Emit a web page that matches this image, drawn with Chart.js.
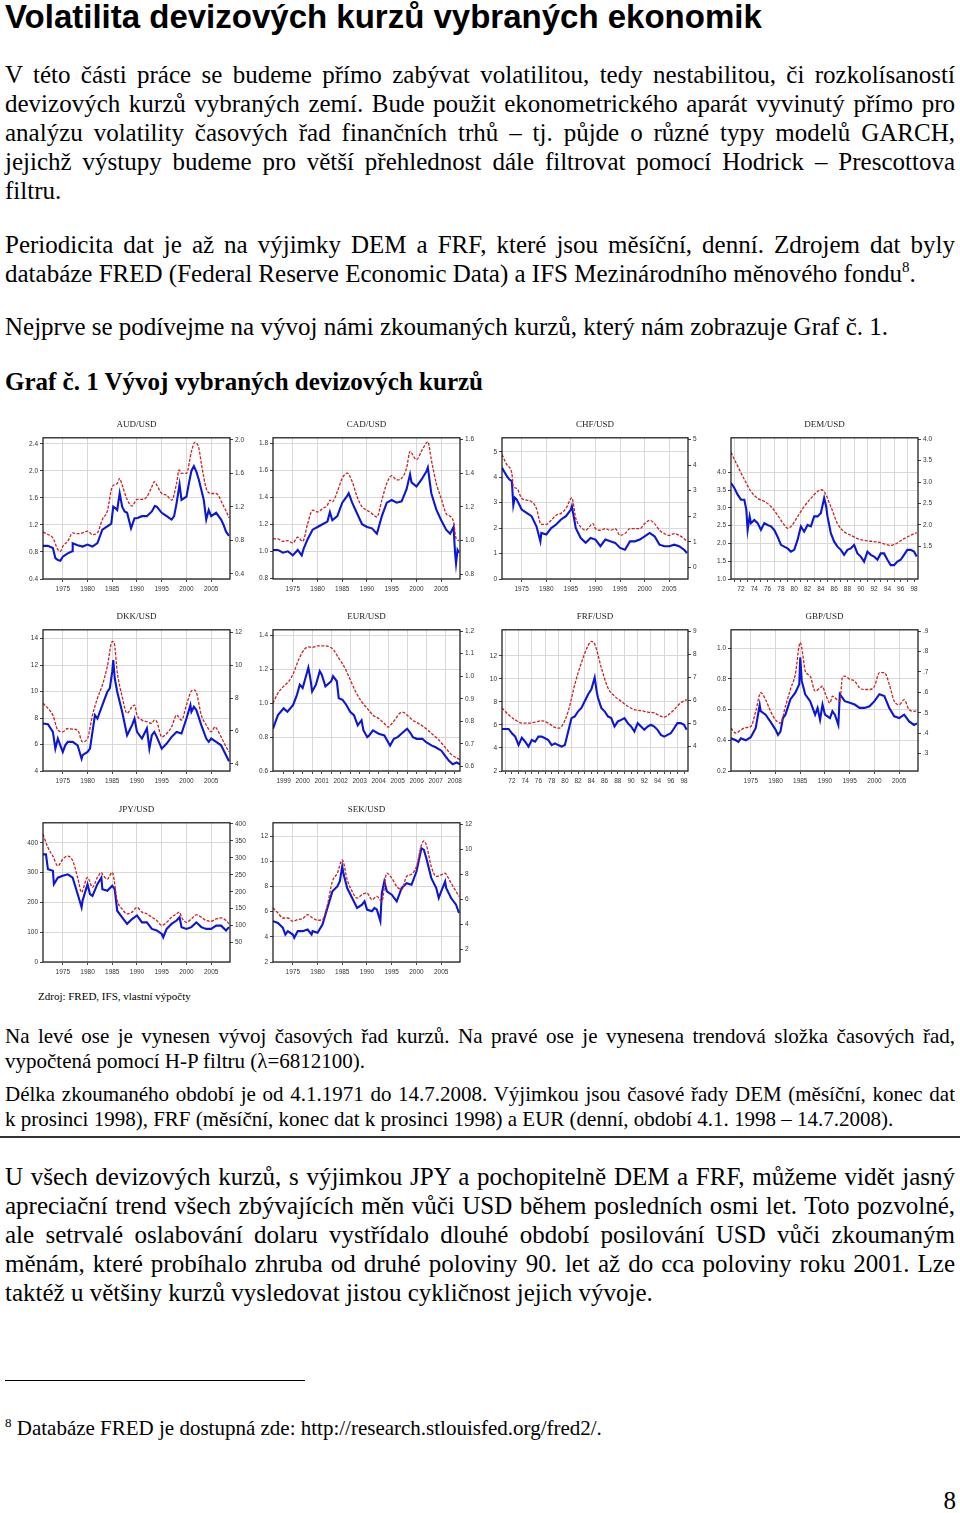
<!DOCTYPE html>
<html lang="cs">
<head>
<meta charset="utf-8">
<title>Volatilita devizových kurzů vybraných ekonomik</title>
<script src="https://cdn.jsdelivr.net/npm/chart.js@4.4.1/dist/chart.umd.min.js"></script>
<style>
  body { margin: 0; width: 960px; height: 1513px; position: relative; background: #fff; color: #000; font-family: 'Liberation Serif', 'Times New Roman', serif; overflow: hidden; }
  .para { position: absolute; left: 5px; width: 950px; font-size: 25px; line-height: 29px; }
  .para div { text-align: justify; text-align-last: justify; }
  .para div.last { text-align-last: left; }
  .small { font-size: 21px; line-height: 25px; }
  h1 { position: absolute; left: 5px; top: 0; margin: 0; font-family: 'Liberation Sans', Arial, sans-serif; font-size: 33px; line-height: 33px; font-weight: bold; }
  .heading { position: absolute; left: 5px; top: 367px; font-size: 25px; line-height: 29px; font-weight: bold; }
  .box { position: absolute; }
  sup { font-size: 15px; line-height: 0; vertical-align: 10px; }
</style>
</head>
<body>
<h1>Volatilita devizových kurzů vybraných ekonomik</h1>

<div class="para" style="top:60px">
  <div>V této části práce se budeme přímo zabývat volatilitou, tedy nestabilitou, či rozkolísaností</div>
  <div>devizových kurzů vybraných zemí. Bude použit ekonometrického aparát vyvinutý přímo pro</div>
  <div>analýzu volatility časových řad finančních trhů – tj. půjde o různé typy modelů GARCH,</div>
  <div>jejichž výstupy budeme pro větší přehlednost dále filtrovat pomocí Hodrick – Prescottova</div>
  <div class="last">filtru.</div>
</div>
<div class="para" style="top:230px">
  <div>Periodicita dat je až na výjimky DEM a FRF, které jsou měsíční, denní. Zdrojem dat byly</div>
  <div class="last">databáze FRED (Federal Reserve Economic Data) a IFS Mezinárodního měnového fondu<sup>8</sup>.</div>
</div>
<div class="para" style="top:312px">
  <div class="last">Nejprve se podívejme na vývoj námi zkoumaných kurzů, který nám zobrazuje Graf č. 1.</div>
</div>
<div class="heading">Graf č. 1 Vývoj vybraných devizových kurzů</div>

<div id="charts"></div>

<div class="box" style="left:38px; top:990px; font-size:11px; line-height:13px;">Zdroj: FRED, IFS, vlastní výpočty</div>

<div class="para small" style="top:1024px">
  <div>Na levé ose je vynesen vývoj časových řad kurzů. Na pravé ose je vynesena trendová složka časových řad,</div>
  <div class="last">vypočtená pomocí H-P filtru (λ=6812100).</div>
</div>
<div class="para small" style="top:1082px">
  <div>Délka zkoumaného období je od 4.1.1971 do 14.7.2008. Výjimkou jsou časové řady DEM (měsíční, konec dat</div>
  <div class="last">k prosinci 1998), FRF (měsíční, konec dat k prosinci 1998) a EUR (denní, období 4.1. 1998 – 14.7.2008).</div>
</div>
<div class="box" style="left:0; top:1136px; width:960px; height:2px; background:#333;"></div>

<div class="para" style="top:1162px">
  <div>U všech devizových kurzů, s výjimkou JPY a pochopitelně DEM a FRF, můžeme vidět jasný</div>
  <div>apreciační trend všech zbývajících měn vůči USD během posledních osmi let. Toto pozvolné,</div>
  <div>ale setrvalé oslabování dolaru vystřídalo dlouhé období posilování USD vůči zkoumaným</div>
  <div>měnám, které probíhalo zhruba od druhé poloviny 90. let až do cca poloviny roku 2001. Lze</div>
  <div class="last">taktéž u většiny kurzů vysledovat jistou cykličnost jejich vývoje.</div>
</div>

<div class="box" style="left:5px; top:1380px; width:300px; height:1px; background:#000;"></div>
<div class="box" style="left:5px; top:1416px; font-size:21px; line-height:25px;"><sup style="font-size:13px; vertical-align:8px;">8</sup> Databáze FRED je dostupná zde: http://research.stlouisfed.org/fred2/.</div>
<div class="box" style="right:4px; top:1486px; font-size:25px; line-height:29px;">8</div>

<script>
// x tick labels
const yearTicks = [1975, 1980, 1985, 1990, 1995, 2000, 2005];
const monthlyLabels = ['72', '74', '76', '78', '80', '82', '84', '86', '88', '90', '92', '94', '96', '98'];
const eurLabels = ['1999', '2000', '2001', '2002', '2003', '2004', '2005', '2006', '2007', '2008'];

// y tick labels (left = kurz, right = H-P trend)
const audLeftTicks = [0.4, 0.8, 1.2, 1.6, 2.0, 2.4];
const audRightTicks = [0.4, 0.8, 1.2, 1.6, 2.0];
const cadLeftTicks = [0.8, 1.0, 1.2, 1.4, 1.6, 1.8];
const cadRightTicks = [0.8, 1.0, 1.2, 1.4, 1.6];
const chfLeftTicks = [0, 1, 2, 3, 4, 5];
const chfRightTicks = [0, 1, 2, 3, 4, 5];
const demLeftTicks = [1.0, 1.5, 2.0, 2.5, 3.0, 3.5, 4.0];
const demRightTicks = [1.5, 2.0, 2.5, 3.0, 3.5, 4.0];
const dkkLeftTicks = [4, 6, 8, 10, 12, 14];
const dkkRightTicks = [4, 6, 8, 10, 12];
const eurLeftTicks = [0.6, 0.8, 1.0, 1.2, 1.4];
const eurRightTicks = [0.6, 0.7, 0.8, 0.9, 1.0, 1.1, 1.2];
const frfLeftTicks = [2, 4, 6, 8, 10, 12];
const frfRightTicks = [4, 5, 6, 7, 8, 9];
const gbpLeftTicks = [0.2, 0.4, 0.6, 0.8, 1.0];
const gbpRightTicks = [0.3, 0.4, 0.5, 0.6, 0.7, 0.8, 0.9];
const jpyLeftTicks = [0, 100, 200, 300, 400];
const jpyRightTicks = [50, 100, 150, 200, 250, 300, 350, 400];
const sekLeftTicks = [2, 4, 6, 8, 10, 12];
const sekRightTicks = [2, 4, 6, 8, 10, 12];

// series: [year, value]
const audSpot = [[1971,0.89],[1972,0.89],[1973,0.86],[1973.5,0.71],[1974,0.68],[1974.5,0.67],[1975,0.73],[1976,0.78],[1976.9,0.81],[1977,0.93],[1978,0.90],[1979,0.88],[1980,0.91],[1981,0.88],[1982,0.93],[1983,1.13],[1984,1.18],[1984.8,1.22],[1985.2,1.47],[1985.6,1.45],[1986,1.42],[1986.5,1.67],[1987,1.47],[1987.5,1.40],[1988,1.38],[1988.8,1.15],[1989.5,1.30],[1990,1.30],[1991,1.33],[1992,1.33],[1993,1.40],[1993.6,1.48],[1994,1.47],[1995,1.38],[1996,1.33],[1997,1.28],[1997.5,1.33],[1998,1.52],[1998.6,1.80],[1999,1.57],[2000,1.62],[2000.5,1.82],[2001,2.00],[2001.5,2.07],[2002,1.99],[2002.5,1.87],[2003,1.72],[2003.5,1.57],[2004,1.28],[2004.5,1.42],[2005,1.33],[2006,1.38],[2007,1.28],[2007.5,1.20],[2008,1.10],[2008.6,1.04]];
const audTrend = [[1971,0.90],[1972,0.87],[1973,0.83],[1974,0.69],[1974.5,0.67],[1975,0.73],[1976,0.79],[1977,0.89],[1978,0.88],[1979,0.89],[1980,0.91],[1981,0.87],[1982,0.89],[1983,1.05],[1984,1.15],[1985,1.44],[1986,1.48],[1986.5,1.54],[1987,1.46],[1988,1.29],[1989,1.21],[1990,1.29],[1991,1.29],[1992,1.32],[1993,1.44],[1993.5,1.50],[1994,1.46],[1995,1.36],[1996,1.34],[1997,1.28],[1998,1.48],[1998.5,1.64],[1999,1.60],[2000,1.60],[2001,1.86],[2001.7,1.97],[2002.5,1.90],[2003,1.72],[2004,1.42],[2005,1.36],[2006,1.36],[2006.5,1.33],[2007,1.27],[2008,1.15],[2008.6,1.07]];

const cadSpot = [[1971,1.01],[1972,1.01],[1973,0.99],[1974,1.00],[1975,0.97],[1976,1.01],[1976.8,0.97],[1977.2,1.02],[1978,1.09],[1979,1.16],[1980,1.18],[1981,1.20],[1982,1.22],[1982.5,1.29],[1983,1.23],[1984,1.26],[1985,1.36],[1986,1.41],[1986.3,1.43],[1987,1.36],[1988,1.28],[1989,1.20],[1990,1.18],[1991,1.17],[1992,1.13],[1993,1.26],[1994,1.36],[1995,1.38],[1996,1.36],[1997,1.37],[1998,1.46],[1998.7,1.57],[1999,1.51],[2000,1.48],[2001,1.53],[2002,1.59],[2002.3,1.62],[2003,1.43],[2004,1.31],[2005,1.23],[2006,1.16],[2006.8,1.13],[2007.5,1.18],[2007.8,0.99],[2008,0.91],[2008.3,1.01],[2008.6,0.99]];
const cadTrend = [[1971,1.01],[1972,1.01],[1973,0.995],[1974,1.0],[1975,0.985],[1976,1.02],[1977,0.995],[1978,1.10],[1979,1.18],[1980,1.17],[1981,1.19],[1982,1.21],[1982.5,1.24],[1983,1.23],[1984,1.29],[1985,1.37],[1986,1.40],[1987,1.35],[1988,1.26],[1989,1.20],[1990,1.18],[1991,1.16],[1992,1.14],[1993,1.24],[1994,1.34],[1995,1.385],[1996,1.36],[1997,1.37],[1998,1.43],[1998.7,1.53],[1999,1.52],[2000,1.48],[2001,1.53],[2002,1.58],[2002.3,1.586],[2003,1.48],[2004,1.34],[2005,1.25],[2006,1.16],[2007,1.14],[2007.5,1.11],[2008,1.014],[2008.6,1.0]];

const chfSpot = [[1971,4.37],[1972,4.04],[1972.5,3.91],[1973,3.85],[1973.3,2.9],[1973.6,3.2],[1974,3.12],[1975,2.73],[1976,2.6],[1977,2.47],[1978,2.07],[1978.8,1.48],[1979,1.81],[1980,1.75],[1981,2.0],[1982,2.14],[1983,2.34],[1984,2.47],[1985,2.73],[1985.2,2.86],[1986,2.0],[1987,1.61],[1988,1.42],[1989,1.61],[1990,1.55],[1991,1.29],[1992,1.55],[1993,1.48],[1994,1.42],[1995,1.22],[1996,1.15],[1997,1.48],[1998,1.48],[1999,1.55],[2000,1.68],[2001,1.81],[2002,1.68],[2003,1.35],[2004,1.29],[2005,1.29],[2006,1.35],[2007,1.29],[2008,1.15],[2008.6,1.02]];
const chfTrend = [[1971,4.41],[1972,4.01],[1973,3.68],[1973.3,3.16],[1974,3.09],[1975,2.70],[1976,2.63],[1977,2.57],[1978,2.30],[1978.8,1.71],[1979,1.68],[1980,1.68],[1981,1.84],[1982,2.04],[1983,2.11],[1984,2.30],[1985.2,2.72],[1986,1.91],[1987,1.58],[1988,1.45],[1989,1.64],[1989.5,1.71],[1990,1.51],[1991,1.45],[1992,1.51],[1993,1.45],[1994,1.51],[1995,1.25],[1996,1.32],[1997,1.51],[1998,1.51],[1999,1.51],[2000,1.71],[2001,1.84],[2002,1.71],[2003,1.45],[2004,1.32],[2005,1.25],[2006,1.32],[2007,1.25],[2008,1.12],[2008.6,1.01]];

const demSpot = [[1971,3.70],[1971.5,3.56],[1972,3.37],[1972.5,3.23],[1973,3.23],[1973.3,2.95],[1973.5,2.38],[1973.8,2.76],[1974,2.57],[1974.5,2.66],[1975,2.57],[1975.5,2.38],[1976,2.57],[1976.5,2.52],[1977,2.48],[1977.5,2.38],[1978,2.19],[1978.5,1.96],[1979,1.91],[1979.5,1.86],[1980,1.77],[1980.5,1.82],[1981,2.10],[1981.5,2.48],[1982,2.33],[1982.5,2.52],[1983,2.48],[1983.5,2.76],[1984,2.76],[1984.5,2.85],[1985,3.28],[1985.3,3.04],[1985.5,2.76],[1986,2.29],[1986.5,2.05],[1987,1.91],[1987.5,1.82],[1988,1.68],[1988.5,1.82],[1989,1.86],[1989.5,1.96],[1990,1.72],[1990.5,1.63],[1991,1.49],[1991.5,1.77],[1992,1.68],[1992.5,1.63],[1993,1.54],[1993.5,1.72],[1994,1.72],[1994.5,1.54],[1995,1.39],[1995.5,1.39],[1996,1.49],[1996.5,1.54],[1997,1.68],[1997.5,1.82],[1998,1.82],[1998.5,1.77],[1998.9,1.63]];
const demTrend = [[1971,3.69],[1972,3.37],[1973,3.06],[1974,2.78],[1975,2.62],[1976,2.55],[1977,2.43],[1978,2.23],[1979,2.0],[1979.5,1.92],[1980,1.96],[1981,2.19],[1982,2.43],[1983,2.62],[1984,2.78],[1984.5,2.82],[1985,2.78],[1986,2.43],[1987,2.03],[1988,1.84],[1989,1.76],[1990,1.68],[1991,1.64],[1992,1.62],[1993,1.60],[1994,1.56],[1995,1.52],[1995.5,1.54],[1996,1.58],[1997,1.68],[1998,1.76],[1998.9,1.82]];

const dkkSpot = [[1971,7.59],[1972,7.54],[1973,6.95],[1973.5,5.69],[1974,6.45],[1974.5,5.94],[1975,5.44],[1975.5,5.94],[1976,6.20],[1977,6.20],[1978,5.94],[1978.8,4.93],[1979,5.19],[1980,5.44],[1980.5,5.69],[1981,6.95],[1981.5,8.22],[1982,7.96],[1983,8.97],[1984,9.98],[1984.5,10.24],[1985,11.50],[1985.2,12.38],[1985.5,11.0],[1986,9.98],[1987,8.47],[1988,6.70],[1988.5,7.08],[1989,7.46],[1989.5,7.96],[1990,6.95],[1991,6.45],[1992,7.21],[1992.5,5.69],[1993,6.70],[1993.5,6.95],[1994,6.58],[1995,5.69],[1996,6.07],[1997,6.58],[1998,6.95],[1999,6.83],[2000,7.96],[2000.8,8.97],[2001,8.47],[2001.5,8.85],[2002,8.60],[2003,7.46],[2004,6.45],[2004.5,6.20],[2005,6.45],[2006,6.20],[2007,5.94],[2008,5.19],[2008.6,4.73]];
const dkkTrend = [[1971,7.68],[1972,7.37],[1973,6.96],[1974,6.05],[1975,5.95],[1976,6.15],[1977,6.11],[1978,6.05],[1979,5.34],[1980,5.54],[1981,6.96],[1982,7.98],[1983,8.79],[1984,9.91],[1985,11.43],[1985.4,11.33],[1986,9.60],[1987,8.08],[1988,7.07],[1989,7.47],[1989.5,7.57],[1990,6.96],[1991,6.66],[1992,6.56],[1993,6.46],[1993.5,6.66],[1994,6.56],[1995,5.64],[1996,5.85],[1997,6.25],[1998,6.96],[1999,6.66],[2000,7.57],[2001,8.43],[2001.5,8.49],[2002,8.35],[2003,6.96],[2004,6.36],[2005,5.95],[2005.8,6.25],[2006,6.19],[2007,5.64],[2008,5.04],[2008.6,4.73]];

const eurSpot = [[1998.94,0.85],[1999.2,0.93],[1999.5,0.97],[1999.7,0.95],[2000.0,0.99],[2000.2,1.05],[2000.35,1.11],[2000.5,1.09],[2000.7,1.17],[2000.8,1.21],[2000.9,1.15],[2001.0,1.07],[2001.2,1.11],[2001.4,1.19],[2001.5,1.17],[2001.7,1.10],[2001.9,1.12],[2002.0,1.13],[2002.1,1.16],[2002.3,1.13],[2002.4,1.03],[2002.6,1.02],[2002.8,0.99],[2003.0,0.95],[2003.2,0.93],[2003.4,0.87],[2003.6,0.90],[2003.7,0.84],[2003.9,0.80],[2004.0,0.81],[2004.2,0.84],[2004.5,0.82],[2004.8,0.81],[2005.0,0.77],[2005.1,0.75],[2005.3,0.79],[2005.5,0.80],[2005.8,0.83],[2006.0,0.85],[2006.2,0.82],[2006.3,0.80],[2006.5,0.79],[2006.8,0.79],[2007.0,0.77],[2007.3,0.75],[2007.5,0.74],[2007.8,0.72],[2008.0,0.69],[2008.2,0.66],[2008.4,0.64],[2008.6,0.65],[2008.78,0.64]];
const eurTrend = [[1998.94,0.88],[1999.2,0.925],[1999.5,0.955],[1999.8,0.98],[2000.0,1.01],[2000.3,1.075],[2000.6,1.12],[2000.8,1.13],[2001.0,1.128],[2001.3,1.135],[2001.6,1.135],[2001.9,1.13],[2002.1,1.12],[2002.4,1.08],[2002.7,1.04],[2003.0,0.985],[2003.3,0.93],[2003.6,0.887],[2003.9,0.857],[2004.2,0.827],[2004.5,0.812],[2004.8,0.79],[2005.0,0.774],[2005.2,0.79],[2005.4,0.812],[2005.6,0.835],[2005.8,0.839],[2006.0,0.827],[2006.3,0.804],[2006.6,0.79],[2007.0,0.767],[2007.3,0.744],[2007.6,0.722],[2008.0,0.684],[2008.3,0.654],[2008.78,0.629]];

const frfSpot = [[1971,5.65],[1972,5.65],[1972.5,5.27],[1973,4.98],[1973.5,4.25],[1974,4.89],[1974.5,4.54],[1975,4.11],[1975.5,4.69],[1976,4.54],[1976.5,4.98],[1977,4.98],[1977.5,4.84],[1978,4.69],[1978.5,4.25],[1979,4.40],[1979.5,4.25],[1980,4.11],[1980.5,4.25],[1981,5.42],[1981.5,6.59],[1982,6.74],[1982.5,7.18],[1983,7.47],[1983.5,8.05],[1984,8.64],[1984.5,9.08],[1985,10.10],[1985.3,8.93],[1985.5,8.35],[1986,7.47],[1986.5,7.18],[1987,6.74],[1987.5,6.59],[1988,5.86],[1988.5,6.30],[1989,6.44],[1989.5,6.59],[1990,6.15],[1990.5,5.86],[1991,5.42],[1991.5,6.15],[1992,5.86],[1992.5,5.57],[1993,5.86],[1993.5,6.01],[1994,5.86],[1994.5,5.57],[1995,5.13],[1995.5,4.98],[1996,5.13],[1996.5,5.27],[1997,5.71],[1997.5,6.15],[1998,6.15],[1998.5,6.01],[1998.9,5.57]];
const frfTrend = [[1971,5.67],[1972,5.37],[1973,5.15],[1974,5.01],[1975,5.01],[1976,5.05],[1977,5.11],[1978,5.01],[1979,4.82],[1979.5,4.79],[1980,4.86],[1981,5.52],[1982,6.69],[1983,7.64],[1984,8.37],[1984.5,8.56],[1985,8.44],[1986,7.42],[1987,6.54],[1988,6.18],[1989,5.96],[1990,5.74],[1991,5.59],[1992,5.55],[1993,5.49],[1994,5.45],[1995,5.30],[1995.5,5.27],[1996,5.34],[1997,5.59],[1998,5.89],[1998.9,6.03]];

const gbpSpot = [[1971,0.413],[1972,0.40],[1972.5,0.39],[1973,0.413],[1974,0.40],[1975,0.42],[1976,0.48],[1976.8,0.63],[1977,0.59],[1978,0.567],[1979,0.52],[1980,0.47],[1980.5,0.435],[1981,0.457],[1981.5,0.545],[1982,0.567],[1983,0.666],[1984,0.71],[1984.8,0.765],[1985,0.94],[1985.3,0.787],[1986,0.70],[1987,0.655],[1988,0.567],[1988.5,0.61],[1989,0.534],[1989.5,0.633],[1990,0.567],[1991,0.545],[1991.5,0.589],[1992,0.567],[1992.7,0.50],[1993,0.70],[1994,0.655],[1995,0.644],[1996,0.633],[1997,0.611],[1998,0.611],[1999,0.622],[2000,0.655],[2001,0.70],[2002,0.688],[2003,0.611],[2004,0.556],[2005,0.545],[2006,0.567],[2007,0.523],[2008,0.50],[2008.6,0.51]];
const gbpTrend = [[1971,0.424],[1972,0.40],[1973,0.416],[1974,0.427],[1975,0.432],[1976,0.507],[1977,0.598],[1978,0.564],[1979,0.507],[1980,0.465],[1981,0.449],[1982,0.531],[1983,0.614],[1984,0.688],[1985,0.845],[1985.5,0.788],[1986,0.705],[1987,0.68],[1988,0.606],[1989,0.622],[1989.5,0.63],[1990,0.598],[1991,0.548],[1991.5,0.581],[1992,0.573],[1993,0.556],[1993.5,0.672],[1994,0.68],[1995,0.664],[1996,0.655],[1997,0.622],[1998,0.614],[1999,0.614],[2000,0.63],[2001,0.697],[2002,0.697],[2003,0.639],[2004,0.556],[2005,0.54],[2006,0.564],[2007,0.515],[2008,0.507],[2008.6,0.51]];

const jpySpot = [[1971,361],[1971.6,361],[1972,311],[1973,306],[1973.2,261],[1974,283],[1975,289],[1976,294],[1977,283],[1978,228],[1978.8,183],[1979,206],[1980,261],[1980.5,228],[1981,222],[1982,261],[1982.8,283],[1983,244],[1984,239],[1985,256],[1985.5,244],[1986,172],[1987,150],[1988,128],[1989,144],[1990,156],[1991,133],[1992,133],[1993,111],[1994,106],[1995,94],[1995.3,83],[1996,111],[1997,128],[1998,139],[1998.6,150],[1999,117],[2000,111],[2001,117],[2002,133],[2003,117],[2004,111],[2005,111],[2006,122],[2007,122],[2008,106],[2008.6,117]];
const jpyTrend = [[1971,369],[1972,330],[1973,305],[1974,276],[1975,296],[1976,305],[1977,291],[1978,242],[1978.8,198],[1979,203],[1980,242],[1981,213],[1982,242],[1982.8,257],[1983,252],[1984,237],[1985,257],[1986,174],[1987,149],[1988,135],[1989,140],[1990,154],[1991,140],[1992,135],[1993,125],[1994,115],[1995,101],[1996,110],[1997,125],[1998,135],[1998.6,140],[1999,125],[2000,110],[2001,120],[2002,132],[2003,125],[2004,115],[2005,113],[2006,120],[2007,123],[2008,115],[2008.6,106]];

const sekSpot = [[1971,5.24],[1972,5.1],[1973,4.71],[1973.5,4.18],[1974,4.45],[1975,4.18],[1975.3,3.92],[1976,4.45],[1977,4.45],[1978,4.58],[1978.8,4.18],[1979,4.45],[1980,4.32],[1981,4.97],[1982,6.29],[1983,7.61],[1984,8.0],[1984.5,8.39],[1985,9.58],[1985.3,8.92],[1986,7.87],[1987,7.08],[1988,6.29],[1989,6.55],[1989.5,6.82],[1990,6.16],[1991,6.03],[1991.5,6.29],[1992,6.16],[1992.7,5.24],[1993,7.47],[1993.5,8.39],[1994,7.61],[1995,7.34],[1996,6.82],[1997,7.87],[1998,8.26],[1999,8.13],[2000,9.18],[2001,11.03],[2001.5,10.9],[2002,10.24],[2003,8.66],[2004,7.87],[2004.5,7.08],[2005,7.61],[2005.8,8.39],[2006,7.87],[2007,7.08],[2008,6.55],[2008.6,5.89]];
const sekTrend = [[1971,5.31],[1972,4.91],[1973,4.51],[1974,4.51],[1975,4.25],[1976,4.38],[1977,4.46],[1978,4.78],[1979,4.51],[1980,4.33],[1981,4.38],[1982,5.57],[1983,7.42],[1984,8.08],[1985,9.14],[1986,7.56],[1987,6.63],[1988,6.10],[1989,6.37],[1990,6.50],[1991,5.97],[1992,6.23],[1993,5.84],[1994,8.08],[1995,7.69],[1996,7.03],[1997,6.76],[1998,7.82],[1999,8.0],[2000,8.61],[2001,10.33],[2001.5,10.65],[2002,10.33],[2003,8.61],[2004,7.82],[2005,7.95],[2005.8,8.08],[2006,8.0],[2007,7.29],[2008,6.63],[2008.6,6.23]];

const panels = [
    { title: 'AUD/USD', spot: audSpot, trend: audTrend, axis: 'years', xRange: [1971, 2008.8], left: [0.4, 2.49], right: [0.34, 2.024], leftTicks: audLeftTicks, rightTicks: audRightTicks, leftDec: 1, rightDec: 1, col: 0, row: 0 },
    { title: 'CAD/USD', spot: cadSpot, trend: cadTrend, axis: 'years', xRange: [1971, 2008.8], left: [0.795, 1.84], right: [0.772, 1.61], leftTicks: cadLeftTicks, rightTicks: cadRightTicks, leftDec: 1, rightDec: 1, col: 1, row: 0 },
    { title: 'CHF/USD', spot: chfSpot, trend: chfTrend, axis: 'years', xRange: [1971, 2008.8], left: [0, 5.55], right: [-0.46, 5.07], leftTicks: chfLeftTicks, rightTicks: chfRightTicks, leftDec: 0, rightDec: 0, col: 2, row: 0 },
    { title: 'DEM/USD', spot: demSpot, trend: demTrend, axis: 'monthly', xRange: [1971, 1999.1], left: [1.0, 4.97], right: [0.74, 4.03], leftTicks: demLeftTicks, rightTicks: demRightTicks, leftDec: 1, rightDec: 1, col: 3, row: 0 },
    { title: 'DKK/USD', spot: dkkSpot, trend: dkkTrend, axis: 'years', xRange: [1971, 2008.8], left: [4, 14.66], right: [3.57, 12.14], leftTicks: dkkLeftTicks, rightTicks: dkkRightTicks, leftDec: 0, rightDec: 0, col: 0, row: 1 },
    { title: 'EUR/USD', spot: eurSpot, trend: eurTrend, axis: 'eur', xRange: [1998.94, 2008.78], left: [0.6, 1.434], right: [0.579, 1.206], leftTicks: eurLeftTicks, rightTicks: eurRightTicks, leftDec: 1, rightDec: 1, col: 1, row: 1 },
    { title: 'FRF/USD', spot: frfSpot, trend: frfTrend, axis: 'monthly', xRange: [1971, 1999.1], left: [2, 14.25], right: [2.93, 9.06], leftTicks: frfLeftTicks, rightTicks: frfRightTicks, leftDec: 0, rightDec: 0, col: 2, row: 1 },
    { title: 'GBP/USD', spot: gbpSpot, trend: gbpTrend, axis: 'years', xRange: [1971, 2008.8], left: [0.2, 1.12], right: [0.214, 0.907], leftTicks: gbpLeftTicks, rightTicks: gbpRightTicks, leftDec: 1, rightDec: -1, col: 3, row: 1 },
    { title: 'JPY/USD', spot: jpySpot, trend: jpyTrend, axis: 'years', xRange: [1971, 2008.8], left: [0, 467], right: [-7, 403], leftTicks: jpyLeftTicks, rightTicks: jpyRightTicks, leftDec: 0, rightDec: 0, col: 0, row: 2 },
    { title: 'SEK/USD', spot: sekSpot, trend: sekTrend, axis: 'years', xRange: [1971, 2008.8], left: [2, 13.05], right: [1.0, 12.1], leftTicks: sekLeftTicks, rightTicks: sekRightTicks, leftDec: 0, rightDec: 0, col: 1, row: 2 }
];

// plot area positions on the page
const colLeft = [43, 273, 502, 731];
const colWidth = [187, 187, 186, 187];
const rowTop = [415, 607, 800];
const rowPlotH = [141, 141, 139];
const SIDE = 20, BOTTOM = 20, TITLE_H = 22.8;

const GRID = '#d9d9d9';
const TICK = '#444';

Chart.defaults.font.family = "'Liberation Sans', Arial, sans-serif";
Chart.defaults.color = '#333';

const framePlugin = {
    id: 'frame',
    afterDatasetsDraw(chart) {
        const a = chart.chartArea;
        const ctx = chart.ctx;
        ctx.save();
        ctx.strokeStyle = '#111';
        ctx.lineWidth = 1.2;
        ctx.strokeRect(a.left, a.top, a.right - a.left, a.bottom - a.top);
        ctx.restore();
    }
};

function fmt(v, dec) {
    if (dec < 0) return v.toFixed(1).replace(/^0/, '');
    return v.toFixed(dec);
}

function xScale(p) {
    let ticks, label, gridColor;
    if (p.axis === 'years') {
        ticks = yearTicks.slice();
        label = v => String(v);
        gridColor = () => GRID;
    } else if (p.axis === 'monthly') {
        ticks = [];
        for (let y = 1971; y <= 1998; y++) ticks.push(y + 0.5);
        label = v => {
            const y = Math.floor(v);
            return monthlyLabels.includes(String(y % 100)) ? String(y % 100) : '';
        };
        gridColor = ctx => ctx.tick && Math.floor(ctx.tick.value) % 2 === 1 ? GRID : 'transparent';
    } else {
        ticks = [];
        eurLabels.forEach((l, i) => {
            if (i > 0) ticks.push(Number(l));
            ticks.push(Number(l) + 0.5);
        });
        label = v => (v % 1 !== 0 ? String(Math.floor(v)) : '');
        gridColor = ctx => ctx.tick && ctx.tick.value % 1 === 0 ? GRID : 'transparent';
    }
    return {
        type: 'linear',
        min: p.xRange[0],
        max: p.xRange[1],
        afterBuildTicks: s => { s.ticks = ticks.map(v => ({ value: v })); },
        afterFit: s => { s.height = BOTTOM; },
        border: { display: false },
        grid: { color: gridColor, tickColor: TICK, tickLength: 3, lineWidth: 1 },
        ticks: { autoSkip: false, maxRotation: 0, padding: 3, font: { size: 6.5 }, callback: label }
    };
}

function yScale(p, side) {
    const range = side === 'left' ? p.left : p.right;
    const ticks = side === 'left' ? p.leftTicks : p.rightTicks;
    const dec = side === 'left' ? p.leftDec : p.rightDec;
    return {
        type: 'linear',
        position: side,
        min: range[0],
        max: range[1],
        afterBuildTicks: s => { s.ticks = ticks.map(v => ({ value: v })); },
        afterFit: s => { s.width = SIDE; },
        border: { display: false },
        grid: { drawOnChartArea: side === 'left', color: GRID, tickColor: TICK, tickLength: 3 },
        ticks: { autoSkip: false, padding: 2, font: { size: 6.5 }, callback: v => fmt(v, dec) }
    };
}

const holder = document.getElementById('charts');

panels.forEach(p => {
    const w = colWidth[p.col] + 2 * SIDE;
    const h = Math.round(TITLE_H + rowPlotH[p.row] + BOTTOM);
    const box = document.createElement('div');
    box.className = 'box';
    box.style.left = (colLeft[p.col] - SIDE) + 'px';
    box.style.top = rowTop[p.row] + 'px';
    box.style.width = w + 'px';
    box.style.height = h + 'px';
    const canvas = document.createElement('canvas');
    canvas.width = w;
    canvas.height = h;
    box.appendChild(canvas);
    holder.appendChild(box);

    new Chart(canvas.getContext('2d'), {
        type: 'line',
        data: {
            datasets: [{
                label: p.title + ' trend (H-P)',
                data: p.trend.map(d => ({ x: d[0], y: d[1] })),
                yAxisID: 'yR',
                borderColor: '#cf1f1f',
                borderWidth: 1.3,
                borderDash: [3, 1.5],
                pointRadius: 0,
                cubicInterpolationMode: 'monotone',
                fill: false
            }, {
                label: p.title,
                data: p.spot.map(d => ({ x: d[0], y: d[1] })),
                yAxisID: 'yL',
                borderColor: '#0b16d6',
                borderWidth: 2.1,
                pointRadius: 0,
                tension: 0,
                fill: false
            }]
        },
        options: {
            responsive: false,
            animation: false,
            layout: { padding: 0 },
            plugins: {
                legend: { display: false },
                tooltip: { enabled: false },
                title: {
                    display: true,
                    text: p.title,
                    color: '#222',
                    font: { family: "'Liberation Serif', 'Times New Roman', serif", size: 9, weight: 'normal' },
                    padding: { top: 4, bottom: 8 }
                }
            },
            scales: {
                x: xScale(p),
                yL: yScale(p, 'left'),
                yR: yScale(p, 'right')
            }
        },
        plugins: [framePlugin]
    });
});
</script>
</body>
</html>
